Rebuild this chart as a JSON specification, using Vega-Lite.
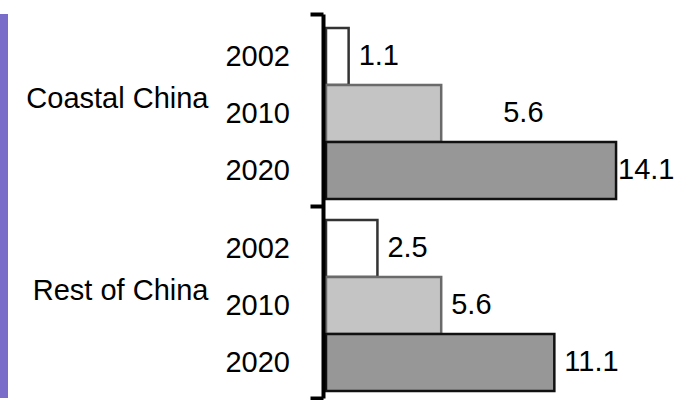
{
  "$schema": "https://vega.github.io/schema/vega-lite/v6.json",
  "padding": 0,
  "background": "white",
  "spacing": 17,
  "config": {"text": {"font": "Liberation Sans"}},
  "hconcat": [
    {
      "width": 8,
      "height": 384,
      "view": {"fill": "#7a6cc9", "stroke": null},
      "data": {"values": [{"v": 0}]},
      "mark": {"type": "point", "opacity": 0},
      "encoding": {}
    },
    {
      "width": 360,
      "height": 384,
      "view": {"stroke": null},
      "data": {
        "values": [
          {"region": "Coastal China", "year": "2002", "value": 1.1},
          {"region": "Coastal China", "year": "2010", "value": 5.6},
          {"region": "Coastal China", "year": "2020", "value": 14.1},
          {"region": "Rest of China", "year": "2002", "value": 2.5},
          {"region": "Rest of China", "year": "2010", "value": 5.6},
          {"region": "Rest of China", "year": "2020", "value": 11.1}
        ]
      },
      "encoding": {
        "y": {
          "field": "region",
          "type": "nominal",
          "sort": ["Coastal China", "Rest of China"],
          "scale": {"paddingInner": 0, "paddingOuter": 0},
          "axis": {
            "title": null,
            "zindex": 1,
            "offset": 3,
            "domainColor": "black",
            "domainWidth": 4,
            "tickColor": "black",
            "tickWidth": 4,
            "tickSize": 13,
            "tickBand": "extent",
            "labelFont": "Liberation Sans",
            "labelFontSize": 29,
            "labelColor": "black",
            "labelPadding": 102,
            "labelOffset": -12,
            "labelLimit": 400
          }
        },
        "yOffset": {
          "field": "year",
          "type": "nominal",
          "sort": ["2002", "2010", "2020"],
          "scale": {"paddingInner": 0, "paddingOuter": 0.184, "align": 0.67}
        }
      },
      "layer": [
        {
          "mark": {"type": "bar", "strokeWidth": 2.5},
          "encoding": {
            "x": {"field": "value", "type": "quantitative", "scale": {"domain": [0, 17.5], "nice": false, "zero": true}, "axis": null},
            "color": {"field": "year", "type": "nominal", "scale": {"domain": ["2002", "2010", "2020"], "range": ["#ffffff", "#c4c4c4", "#979797"]}, "legend": null},
            "stroke": {"field": "year", "type": "nominal", "scale": {"domain": ["2002", "2010", "2020"], "range": ["#333333", "#6a6a6a", "#111111"]}, "legend": null}
          }
        },
        {
          "mark": {"type": "text", "align": "right", "baseline": "middle", "dx": -36, "fontSize": 29, "color": "black"},
          "encoding": {
            "x": {"datum": 0, "type": "quantitative", "axis": null},
            "text": {"field": "year"}
          }
        },
        {
          "transform": [{"filter": "!(datum.region === 'Coastal China' && (datum.year === '2010' || datum.year === '2020'))"}],
          "mark": {"type": "text", "align": "left", "baseline": "middle", "dx": 10, "dy": -1, "fontSize": 29, "color": "black"},
          "encoding": {
            "x": {"field": "value", "type": "quantitative", "axis": null},
            "text": {"field": "value", "format": ".1f"}
          }
        },
        {
          "transform": [{"filter": "datum.region === 'Coastal China' && datum.year === '2010'"}],
          "mark": {"type": "text", "align": "left", "baseline": "middle", "dx": 62, "dy": -1, "fontSize": 29, "color": "black"},
          "encoding": {
            "x": {"field": "value", "type": "quantitative", "axis": null},
            "text": {"field": "value", "format": ".1f"}
          }
        },
        {
          "transform": [{"filter": "datum.region === 'Coastal China' && datum.year === '2020'"}],
          "mark": {"type": "text", "align": "left", "baseline": "middle", "dx": 2, "dy": -1, "fontSize": 29, "color": "black"},
          "encoding": {
            "x": {"field": "value", "type": "quantitative", "axis": null},
            "text": {"field": "value", "format": ".1f"}
          }
        }
      ]
    }
  ]
}
